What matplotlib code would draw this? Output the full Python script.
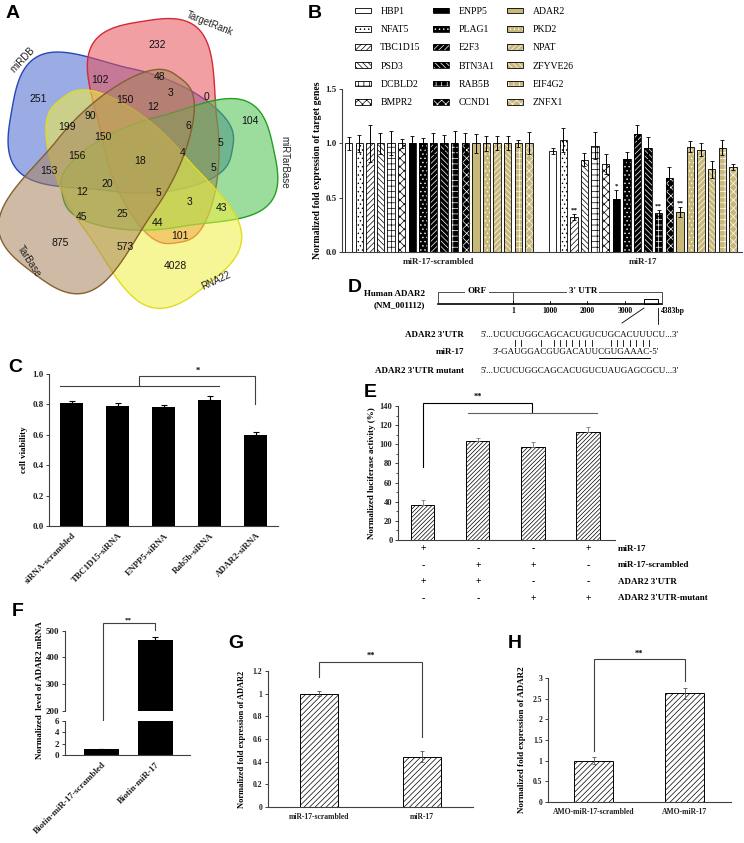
import numpy as np
import matplotlib
matplotlib.use('Agg')
import matplotlib.pyplot as plt
from matplotlib.patches import Polygon, Patch, Rectangle
from matplotlib.font_manager import FontProperties

plt.rcParams['hatch.linewidth'] = 0.5
plt.rcParams['font.family'] = ['Liberation Serif', 'DejaVu Serif']

# ---------------- data ----------------
# A: venn
venn_sets = ['miRDB', 'TargetRank', 'miRTarBase', 'RNA22', 'TarBase']
venn_counts = [232, 102, 48, 251, 150, 3, 0, 90, 12, 199, 150, 6, 104, 5, 4,
               156, 18, 5, 153, 20, 5, 12, 3, 43, 45, 25, 44, 101, 875, 573, 4028]

# B: target genes
genes = ['HBP1', 'NFAT5', 'TBC1D15', 'PSD3', 'DCBLD2', 'BMPR2',
         'ENPP5', 'PLAG1', 'E2F3', 'BTN3A1', 'RAB5B', 'CCND1',
         'ADAR2', 'PKD2', 'NPAT', 'ZFYVE26', 'EIF4G2', 'ZNFX1']
scr_vals = [1.0, 1.0, 1.0, 1.0, 1.0, 1.0, 1.0, 1.0, 1.0, 1.0, 1.0, 1.0, 1.0, 1.0, 1.0, 1.0, 1.0, 1.0]
scr_err = [0.06, 0.08, 0.17, 0.095, 0.11, 0.04, 0.065, 0.05, 0.095, 0.08, 0.11, 0.095,
           0.09, 0.07, 0.065, 0.065, 0.035, 0.10]
mir_vals = [0.93, 1.03, 0.32, 0.85, 0.98, 0.81, 0.49, 0.86, 1.09, 0.96, 0.36, 0.68,
            0.37, 0.97, 0.94, 0.76, 0.96, 0.78]
mir_err = [0.03, 0.11, 0.03, 0.06, 0.12, 0.095, 0.08, 0.06, 0.08, 0.10, 0.03, 0.10,
           0.045, 0.05, 0.06, 0.075, 0.07, 0.03]
mir_sig = ['', '', '**', '', '', '', '*', '', '', '', '**', '', '**', '', '', '', '', '']
b_groups = ['miR-17-scrambled', 'miR-17']

# C: cell viability
c_labels = ['siRNA-scrambled', 'TBC1D15-siRNA', 'ENPP5-siRNA', 'Rab5b-siRNA', 'ADAR2-siRNA']
c_vals = [0.81, 0.79, 0.78, 0.83, 0.60]
c_err = [0.015, 0.02, 0.015, 0.025, 0.02]

# D: sequences
utr_nt = 'UCUCUGGCAGCACUGUCUGCACUUUCU'
mir_nt = 'GAUGGACGUGACAUUCGUGAAAC'
mut_nt = 'UCUCUGGCAGCACUGUCUAUGAGCGCU'
pair_idx = [3, 4, 7, 9, 10, 11, 12, 13, 14, 15, 18, 19, 20, 21, 22, 23, 24]
seed_idx = [15, 22]
d_ticks = ['1', '1000', '2000', '3000']

# E: luciferase
e_vals = [37, 103.5, 97.5, 112.5]
e_err = [4.5, 3.5, 4.5, 6]
e_rows = ['miR-17', 'miR-17-scrambled', "ADAR2 3'UTR", "ADAR2 3'UTR-mutant"]
e_signs = [['+', '-', '-', '+'],
           ['-', '+', '+', '-'],
           ['+', '+', '-', '-'],
           ['-', '-', '+', '+']]

# F: biotin pull-down
f_labels = ['Biotin-miR-17-scrambled', 'Biotin-miR-17']
f_vals = [1.0, 465]
f_err = [0.1, 13]

# G, H
g_labels = ['miR-17-scrambled', 'miR-17']
g_vals = [1.0, 0.445]
g_err = [0.02, 0.045]
h_labels = ['AMO-miR-17-scrambled', 'AMO-miR-17']
h_vals = [1.0, 2.63]
h_err = [0.08, 0.14]

# ---------------- layout helpers ----------------
W, H = 744, 843
fig = plt.figure(figsize=(W / 100, H / 100), dpi=100)
BF = dict(family='Liberation Serif', weight='bold')
SANS = ['Liberation Sans', 'DejaVu Sans']


def px_axes(x0, y0, x1, y1):
    return fig.add_axes([x0 / W, 1 - y1 / H, (x1 - x0) / W, (y1 - y0) / H])


def letter(x, y, s):
    fig.text(x / W, 1 - y / H, s, family=SANS, weight='bold', fontsize=14, va='center', ha='left')


def style_axes(ax, fs=6.5):
    for sp in ['top', 'right']:
        ax.spines[sp].set_visible(False)
    for sp in ['left', 'bottom']:
        ax.spines[sp].set_linewidth(0.8)
        ax.spines[sp].set_color('#404040')
    ax.tick_params(direction='out', length=2.5, width=0.6, labelsize=fs, pad=1.5, colors='#202020')
    for lab in ax.get_yticklabels() + ax.get_xticklabels():
        lab.set_fontweight('bold')


def bracket(ax, pts, lw=0.8, color='#404040'):
    xs = [p[0] for p in pts]
    ys = [p[1] for p in pts]
    ax.plot(xs, ys, color=color, lw=lw, clip_on=False, solid_joinstyle='miter')


ov = fig.add_axes([0, 0, 1, 1])
ov.set_xlim(0, W)
ov.set_ylim(H, 0)
ov.axis('off')

# ---------------- A: venn ----------------
axA = px_axes(0, 0, 370, 310)
axA.set_xlim(0, 370)
axA.set_ylim(310, 0)
axA.axis('off')


def blob_xy(cx, cy, ang, a, b, k, p=0.65, n=400):
    t = np.linspace(0, 2 * np.pi, n)
    c, s = np.cos(t), np.sin(t)
    u = a * np.sign(c) * np.abs(c) ** p
    v = b * np.sign(s) * np.abs(s) ** p * (1 + k * c)
    th = np.deg2rad(ang)
    x = cx + u * np.cos(th) - v * np.sin(th)
    y = cy - (u * np.sin(th) + v * np.cos(th))
    return np.column_stack([x, y])


blobs = [((122, 130), 170, 112, 62, '#4a66cc', '#2a46b8'),
         ((160, 132), 99, 112, 58, '#e8505a', '#d42a36'),
         ((168, 172), 12, 108, 56, '#4cc04c', '#22a022'),
         ((134, 192), -52, 118, 62, '#f2f040', '#e0dc20'),
         ((106, 175), -127, 122, 60, '#a8845c', '#86602e')]
for (cx, cy), ang, a, b, fc, ec in blobs:
    xy = blob_xy(cx, cy, ang, a, b, 0.35)
    axA.add_patch(Polygon(xy, closed=True, fc=fc, ec='none', alpha=0.55))
    axA.add_patch(Polygon(xy, closed=True, fill=False, ec=ec, lw=1.0))

venn_pos = [(157, 45), (100, 80), (160, 77), (38, 99), (125, 100), (171, 93), (206, 97),
            (90, 116), (153, 107), (67, 127), (103, 137), (188, 126), (250, 121), (220, 143),
            (183, 153), (77, 156), (140, 161), (213, 168), (49, 171), (107, 184), (158, 193),
            (82, 192), (190, 202), (221, 208), (82, 217), (122, 214), (158, 223), (180, 236),
            (60, 243), (125, 247), (175, 266)]
for (x, y), n in zip(venn_pos, venn_counts):
    axA.text(x, y, str(n), family=SANS, fontsize=7.5, ha='center', va='center', color='#111111')

set_pos = [(23, 60, 47), (210, 24, -22), (284, 162, -90), (216, 281, 25), (29, 261, -57)]
for (x, y, rot), s in zip(set_pos, venn_sets):
    axA.text(x, y, s, family=SANS, fontsize=7, ha='center', va='center', rotation=rot,
             rotation_mode='anchor', color='#222222')
letter(6, 14, 'A')

# ---------------- B: target genes ----------------
tan = '#c8b87a'
b_styles = [('white', '', 'black'), ('white', '....', 'black'), ('white', '//////', 'black'),
            ('white', '\\\\\\\\\\\\', 'black'), ('white', '+++', 'black'), ('white', 'xxxx', 'black'),
            ('black', '', 'white'), ('black', '....', 'white'), ('black', '//////', 'white'),
            ('black', '\\\\\\\\\\\\', 'white'), ('black', '+++', 'white'), ('black', 'xxxx', 'white'),
            (tan, '', 'white'), (tan, '....', 'white'), (tan, '//////', 'white'),
            (tan, '\\\\\\\\\\\\', 'white'), (tan, '+++', 'white'), (tan, 'xxxx', 'white')]

axB = px_axes(342, 89, 742, 252)
pitch = 10.6
off2 = 204 / pitch
bw = 0.69
x1 = np.arange(len(genes))
x2 = x1 + off2
for i in range(len(genes)):
    fc, hatch, hc = b_styles[i]
    for xx, hh in [(x1[i], scr_vals[i]), (x2[i], mir_vals[i])]:
        axB.bar(xx, hh, bw, color=fc, edgecolor=hc, hatch=hatch, linewidth=0)
        axB.bar(xx, hh, bw, fill=False, edgecolor='black', linewidth=0.6)
axB.errorbar(x1, scr_vals, yerr=scr_err, fmt='none', ecolor='black', elinewidth=0.7, capsize=1.5, capthick=0.6)
axB.errorbar(x2, mir_vals, yerr=mir_err, fmt='none', ecolor='black', elinewidth=0.7, capsize=1.5, capthick=0.6)
for i, s in enumerate(mir_sig):
    if s:
        axB.text(x2[i], mir_vals[i] + mir_err[i] + 0.01, s, ha='center', va='bottom', fontsize=5, **BF)
axB.set_xlim((342 - 348.65) / pitch, (742 - 348.65) / pitch)
axB.set_ylim(0, 1.5)
axB.set_yticks([0, 0.5, 1.0, 1.5])
axB.set_yticklabels(['0.0', '0.5', '1.0', '1.5'])
axB.set_xticks([x1.mean(), x2.mean()])
axB.set_xticklabels(b_groups)
style_axes(axB)
axB.tick_params(axis='x', length=0, pad=4)
axB.set_ylabel('Normalized fold expression of target genes', fontsize=7, labelpad=2, **BF)

handles = []
for fc, hatch, hc in b_styles:
    handles.append((Patch(fc=fc, ec=hc, hatch=hatch, lw=0), Patch(fill=False, ec='black', lw=0.6)))
fig.legend(handles, genes, ncol=3, loc='upper left', bbox_to_anchor=(355 / W, 1 - 7 / H),
           frameon=False, fontsize=7, handlelength=1.6, handleheight=0.55, handletextpad=1.0,
           labelspacing=0.95, columnspacing=1.3, borderpad=0, borderaxespad=0)
letter(308, 14, 'B')

# ---------------- C: cell viability ----------------
axC = px_axes(49, 374, 278, 526)
xc = np.arange(len(c_labels))
axC.bar(xc, c_vals, 0.5, color='black')
axC.errorbar(xc, c_vals, yerr=[np.zeros(len(c_err)), c_err], fmt='none', ecolor='black',
             elinewidth=0.8, capsize=2.5, capthick=0.8)
axC.set_xlim(-0.5, 4.48)
axC.set_ylim(0, 1.0)
axC.set_yticks([0, 0.2, 0.4, 0.6, 0.8, 1.0])
axC.set_yticklabels(['0.0', '0.2', '0.4', '0.6', '0.8', '1.0'])
axC.set_xticks(xc)
axC.set_xticklabels(c_labels, rotation=45, ha='right', rotation_mode='anchor')
style_axes(axC)
axC.tick_params(axis='x', length=0, pad=4)
axC.set_ylabel('cell viability', fontsize=6.5, labelpad=3, **BF)
bracket(axC, [(-0.26, 0.92), (3.2, 0.92)])
bracket(axC, [(1.46, 0.92), (1.46, 0.985), (3.98, 0.985), (3.98, 0.80)])
axC.text(2.74, 0.995, '*', ha='center', va='bottom', fontsize=6, **BF)
letter(8, 367, 'C')

# ---------------- D: ADAR2 3'UTR ----------------
letter(348, 288, 'D')
ov.text(425, 294, 'Human ADAR2', ha='right', va='center', fontsize=6.5, **BF)
ov.text(425, 305, '(NM_001112)', ha='right', va='center', fontsize=6.5, **BF)
ov.plot([438, 662], [304, 304], color='black', lw=1.2)
ov.plot([438, 438, 662, 662], [304, 292, 292, 304], color='#303030', lw=0.6)
ov.plot([513, 513], [292, 304], color='#303030', lw=0.6)
ov.text(477, 291, 'ORF', ha='center', va='center', fontsize=6.5,
        bbox=dict(fc='white', ec='none', pad=1.5), **BF)
ov.text(583, 291, "3' UTR", ha='center', va='center', fontsize=6.5,
        bbox=dict(fc='white', ec='none', pad=1.5), **BF)
for xt, s in zip([513, 550, 587, 625], d_ticks):
    ov.plot([xt, xt], [301, 304], color='black', lw=0.6)
    ov.text(xt, 311, s, ha='center', va='center', fontsize=5.5, **BF)
ov.text(661, 311, '4383bp', ha='left', va='center', fontsize=5.5, **BF)
ov.add_patch(Rectangle((644, 299), 14, 5, fc='white', ec='black', lw=0.7))
ov.plot([644, 622], [308, 323], color='black', lw=0.6)
ov.plot([658, 658], [308, 324], color='black', lw=0.6)

seq_fs = 6.5
rend = fig.canvas.get_renderer()
fp = FontProperties(family='Liberation Serif', size=seq_fs)


def tw(s):
    return rend.get_text_width_height_descent(s, fp, ismath=False)[0]


ov.text(464, 335, "ADAR2 3'UTR", ha='right', va='center', fontsize=6.5, **BF)
ov.text(464, 352, 'miR-17', ha='right', va='center', fontsize=6.5, **BF)
ov.text(464, 371, "ADAR2 3'UTR mutant", ha='right', va='center', fontsize=6.5, **BF)
utr_str = "5'..." + utr_nt + "...3'"
ov.text(480, 335, utr_str, ha='left', va='center', fontsize=seq_fs, family='Liberation Serif')
ov.text(480, 371, "5'..." + mut_nt + "...3'", ha='left', va='center', fontsize=seq_fs,
        family='Liberation Serif')
mir_str = "3'-" + mir_nt + "-5'"
ov.text(493, 352, mir_str, ha='left', va='center', fontsize=seq_fs, family='Liberation Serif')
for i in pair_idx:
    pre = "5'..." + utr_nt[:i]
    xc_ = 480 + tw(pre) + tw(utr_nt[i]) / 2
    ov.plot([xc_, xc_], [340, 345.5], color='black', lw=0.6)
u0 = 493 + tw("3'-" + mir_nt[:seed_idx[0]])
u1 = 493 + tw("3'-" + mir_nt[:seed_idx[1] + 1])
ov.plot([u0, u1], [358, 358], color='black', lw=0.7)

# ---------------- E: luciferase ----------------
axE = px_axes(398, 406, 615, 540)
xe = np.arange(len(e_vals))
axE.bar(xe, e_vals, 0.42, color='white', edgecolor='black', hatch='////////', linewidth=0.7)
axE.errorbar(xe, e_vals, yerr=[np.zeros(len(e_err)), e_err], fmt='none', ecolor='#777777',
             elinewidth=0.6, capsize=1.5, capthick=0.6)
axE.set_xlim(-0.45, 3.49)
axE.set_ylim(0, 140)
axE.set_yticks(np.arange(0, 141, 20))
axE.set_yticks(np.arange(0, 141, 10), minor=True)
axE.set_xticks([])
style_axes(axE, fs=6)
axE.tick_params(which='minor', direction='out', length=1.5, width=0.5)
axE.set_ylabel('Normalized luciferase activity (%)', fontsize=6.5, labelpad=3, **BF)
bracket(axE, [(0, 76), (0, 143.5), (1.98, 143.5), (1.98, 133)], color='black')
bracket(axE, [(0.82, 133), (3.16, 133)], color='#606060')
axE.text(1.0, 145, '**', ha='center', va='bottom', fontsize=6, **BF)
for r, (lab, row) in enumerate(zip(e_rows, e_signs)):
    yy = 549 + r * 16.4
    for xi, s in zip([423, 478, 533, 588], row):
        ov.text(xi, yy, s, ha='center', va='center', fontsize=7, **BF)
    ov.text(618, yy, lab, ha='left', va='center', fontsize=6.5, **BF)
letter(364, 393, 'E')

# ---------------- F: broken axis ----------------
fx_ = [0, 1]
axFu = px_axes(65, 630.7, 190, 710.7)
axFl = px_axes(65, 720.7, 190, 755)
for ax, lo, hi in [(axFu, 200, 500), (axFl, 0, 6)]:
    ax.bar(fx_, f_vals, 0.65, color='black')
    ax.errorbar(fx_, f_vals, yerr=[[0, 0], f_err], fmt='none', ecolor='black', elinewidth=0.8,
                capsize=2.5, capthick=0.8)
    ax.set_ylim(lo, hi)
    ax.set_xlim(-0.676, 1.64)
axFu.set_yticks([200, 300, 400, 500])
axFl.set_yticks([0, 2, 4, 6])
axFl.set_xticks(fx_)
axFl.set_xticklabels(f_labels, rotation=45, ha='right', rotation_mode='anchor')
style_axes(axFu)
style_axes(axFl)
axFu.spines['bottom'].set_visible(False)
axFu.set_xticks([])
axFl.tick_params(axis='x', length=0, pad=4)
fig.text(40 / W, 1 - 690 / H, 'Normalized  level of ADAR2 mRNA', rotation=90, ha='center',
         va='center', fontsize=6.5, **BF)
bracket(axFu, [(0.03, 154), (0.03, 529), (1.0, 529), (1.0, 502.6)])
axFu.text(0.5, 532, '**', ha='center', va='bottom', fontsize=5, **BF)
letter(12, 612, 'F')

# ---------------- G ----------------
axG = px_axes(268, 671, 473, 807)
axG.bar([0, 1], g_vals, 0.37, color='white', edgecolor='black', hatch='//////', linewidth=0.7)
axG.errorbar([0, 1], g_vals, yerr=g_err, fmt='none', ecolor='#555555', elinewidth=0.6,
             capsize=1.5, capthick=0.6)
axG.set_xlim(-0.5, 1.5)
axG.set_ylim(0, 1.2)
axG.set_yticks([0, 0.2, 0.4, 0.6, 0.8, 1.0, 1.2])
axG.set_yticklabels(['0', '0.2', '0.4', '0.6', '0.8', '1', '1.2'])
axG.set_xticks([0, 1])
axG.set_xticklabels(g_labels)
style_axes(axG, fs=5.5)
axG.tick_params(axis='x', length=0, pad=4)
axG.set_ylabel('Normalized fold expression of ADAR2', fontsize=6, labelpad=5, **BF)
bracket(axG, [(0, 1.147), (0, 1.28), (1, 1.28), (1, 0.618)])
axG.text(0.5, 1.3, '**', ha='center', va='bottom', fontsize=6, **BF)
letter(228, 643, 'G')

# ---------------- H ----------------
axH = px_axes(548, 678, 731, 802)
axH.bar([0, 1], h_vals, 0.43, color='white', edgecolor='black', hatch='//////', linewidth=0.7)
axH.errorbar([0, 1], h_vals, yerr=h_err, fmt='none', ecolor='#555555', elinewidth=0.6,
             capsize=1.5, capthick=0.6)
axH.set_xlim(-0.5, 1.51)
axH.set_ylim(0, 3)
axH.set_yticks([0, 0.5, 1, 1.5, 2, 2.5, 3])
axH.set_yticklabels(['0', '0.5', '1', '1.5', '2', '2.5', '3'])
axH.set_xticks([0, 1])
axH.set_xticklabels(h_labels)
style_axes(axH, fs=5.5)
axH.tick_params(axis='x', length=0, pad=4)
axH.set_ylabel('Normalized fold expression of ADAR2', fontsize=6.5, labelpad=5, **BF)
bracket(axH, [(0, 1.24), (0, 3.46), (1, 3.46), (1, 2.93)])
axH.text(0.5, 3.5, '**', ha='center', va='bottom', fontsize=6, **BF)
letter(508, 643, 'H')

fig.savefig('out.png', dpi=100)
